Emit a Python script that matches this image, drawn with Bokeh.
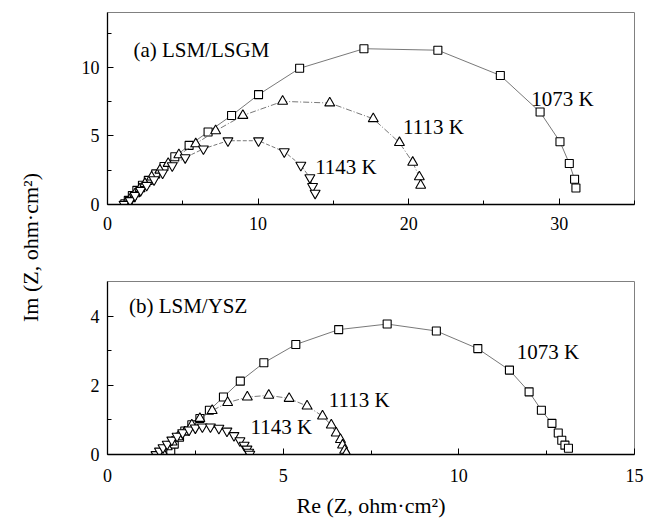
from math import pi
from bokeh.plotting import figure
from bokeh.layouts import row, column
from bokeh.models import FixedTicker, Label, Range1d
from bokeh.embed import file_html
from bokeh.resources import INLINE

FONT = "Liberation Serif"

# ---------------- data: (a) LSM/LSGM ----------------
a1073_re = [1.15, 1.38, 1.65, 1.95, 2.32, 2.71, 3.2, 3.75, 4.47, 5.42, 6.68, 8.24, 10.03, 12.76,
            17.03, 21.94, 26.09, 28.73, 30.05, 30.67, 31.02, 31.11]
a1073_im = [0.05, 0.3, 0.66, 1.03, 1.4, 1.76, 2.23, 2.77, 3.48, 4.31, 5.29, 6.49, 8.01, 9.93,
            11.36, 11.25, 9.41, 6.74, 4.58, 2.99, 1.84, 1.2]

a1113_re = [1.25, 1.52, 1.83, 2.16, 2.49, 2.93, 3.48, 4.03, 4.74, 5.86, 7.18, 8.99, 11.63, 14.76,
            17.65, 19.39, 20.27, 20.71, 20.8]
a1113_im = [0.14, 0.42, 0.78, 1.15, 1.52, 2.0, 2.5, 2.99, 3.62, 4.42, 5.37, 6.49, 7.52, 7.4,
            6.25, 4.51, 3.07, 2.01, 1.4]

a1143_re = [1.1, 1.5, 1.83, 2.2, 2.6, 3.09, 3.66, 4.3, 5.16, 6.37, 8.0, 10.03, 11.74, 12.84,
            13.44, 13.62, 13.79]
a1143_im = [0.02, 0.29, 0.66, 1.03, 1.4, 1.81, 2.3, 2.83, 3.42, 4.06, 4.65, 4.65, 3.85, 2.87,
            1.96, 1.32, 0.83]

# ---------------- data: (b) LSM/YSZ ----------------
b1073_re = [1.8, 1.9, 2.05, 2.2, 2.4, 2.63, 2.9, 3.3, 3.78, 4.45, 5.36, 6.58, 7.96, 9.36,
            10.54, 11.44, 12.0, 12.35, 12.65, 12.83, 12.93, 13.02, 13.12]
b1073_im = [0.1, 0.3, 0.5, 0.68, 0.86, 1.04, 1.28, 1.66, 2.12, 2.65, 3.18, 3.61, 3.77, 3.57,
            3.06, 2.44, 1.81, 1.28, 0.9, 0.62, 0.41, 0.27, 0.18]

b1113_re = [1.56, 1.7, 1.84, 2.01, 2.2, 2.4, 2.63, 2.98, 3.42, 3.98, 4.59, 5.17, 5.68, 6.12,
            6.37, 6.51, 6.63, 6.69, 6.75, 6.8]
b1113_im = [0.08, 0.22, 0.36, 0.51, 0.65, 0.85, 1.04, 1.27, 1.5, 1.66, 1.71, 1.62, 1.4, 1.11,
            0.85, 0.62, 0.43, 0.27, 0.12, 0.03]

b1143_re = [1.38, 1.48, 1.58, 1.7, 1.83, 1.98, 2.14, 2.32, 2.5, 2.7, 2.93, 3.17, 3.4, 3.6,
            3.77, 3.89, 3.97, 4.02, 4.05]
b1143_im = [0.0, 0.1, 0.2, 0.3, 0.42, 0.53, 0.63, 0.71, 0.77, 0.8, 0.8, 0.76, 0.68, 0.55,
            0.4, 0.27, 0.16, 0.07, 0.01]

a_xticks, a_xminor = [0, 10, 20, 30], [5, 15, 25, 35]
a_yticks, a_yminor = [0, 5, 10], [2.5, 7.5, 12.5]
b_xticks, b_xminor = [0, 5, 10, 15], [2.5, 7.5, 12.5]
b_yticks, b_yminor = [0, 2, 4], [1, 3]

temps = ["1073 K", "1113 K", "1143 K"]


def style(p, xt, xm, yt, ym):
    p.grid.visible = False
    p.outline_line_color = "#808080"
    p.outline_line_width = 1
    p.background_fill_color = "white"
    p.border_fill_color = "white"
    for ax in (p.xaxis[0], p.yaxis[0]):
        ax.axis_line_color = "black"
        ax.axis_line_width = 1.3
        ax.major_tick_in = 6
        ax.major_tick_out = 0
        ax.minor_tick_in = 4
        ax.minor_tick_out = 0
        ax.major_tick_line_color = "black"
        ax.minor_tick_line_color = "black"
        ax.major_label_text_font = FONT
        ax.major_label_text_font_size = "18px"
        ax.major_label_text_color = "black"
        ax.axis_label_text_font = FONT
        ax.axis_label_text_font_style = "normal"
        ax.axis_label_text_font_size = "22px"
        ax.axis_label_text_color = "black"
    p.xaxis[0].ticker = FixedTicker(ticks=xt, minor_ticks=xm)
    p.yaxis[0].ticker = FixedTicker(ticks=yt, minor_ticks=ym)
    p.xaxis[0].major_label_standoff = 12
    p.yaxis[0].major_label_standoff = 8


def series(p, xs, ys, marker, size, dash):
    p.line(xs, ys, line_color="#555555", line_width=0.8, line_dash=dash)
    p.scatter(xs, ys, marker=marker, size=size, fill_color="white",
              line_color="black", line_width=1.1)


def text(p, x, y, s):
    p.add_layout(Label(x=x, y=y, text=s, text_font=FONT, text_font_size="21px",
                       text_color="black", text_align="left", text_baseline="middle"))


# ---------------- top panel ----------------
pa = figure(width=599, height=250, x_range=Range1d(0, 35), y_range=Range1d(0, 14),
            output_backend="svg", toolbar_location=None,
            min_border_left=44, min_border_right=25, min_border_top=12, min_border_bottom=46)
style(pa, a_xticks, a_xminor, a_yticks, a_yminor)
series(pa, a1073_re, a1073_im, "square", 8, "solid")
series(pa, a1113_re, a1113_im, "triangle", 10, "6 2 1 2")
series(pa, a1143_re, a1143_im, "inverted_triangle", 10, "4 2")
text(pa, 1.72, 11.3, "(a) LSM/LSGM")
text(pa, 28.15, 7.68, temps[0])
text(pa, 19.63, 5.63, temps[1])
text(pa, 13.79, 2.76, temps[2])

# ---------------- bottom panel ----------------
pb = figure(width=599, height=275, x_range=Range1d(0, 15), y_range=Range1d(0, 5),
            output_backend="svg", toolbar_location=None,
            min_border_left=47, min_border_right=14, min_border_top=31, min_border_bottom=71)
style(pb, b_xticks, b_xminor, b_yticks, b_yminor)
pb.xaxis[0].major_label_standoff = 14
pb.xaxis[0].axis_label = "Re (Z, ohm·cm²)"
pb.xaxis[0].axis_label_standoff = 8
series(pb, b1073_re, b1073_im, "square", 8, "solid")
series(pb, b1113_re, b1113_im, "triangle", 10, "6 2 1 2")
series(pb, b1143_re, b1143_im, "inverted_triangle", 10, "4 2")
text(pb, 0.61, 4.3, "(b) LSM/YSZ")
text(pb, 11.65, 2.96, temps[0])
text(pb, 6.3, 1.58, temps[1])
text(pb, 4.07, 0.80, temps[2])

# ---------------- shared y label ----------------
pl = figure(width=60, height=525, x_range=Range1d(0, 1), y_range=Range1d(0, 1),
            x_axis_type=None, y_axis_type=None, output_backend="svg", toolbar_location=None,
            min_border=0, outline_line_color=None)
pl.grid.visible = False
pl.add_layout(Label(x=0.5, y=(525 - 247) / 525, text="Im (Z, ohm·cm²)", angle=pi / 2,
                    text_font=FONT, text_font_size="22px", text_color="black",
                    text_align="center", text_baseline="middle"))

layout = row(pl, column(pa, pb, spacing=0), spacing=0)
open("out.html", "w").write(file_html(layout, INLINE))
